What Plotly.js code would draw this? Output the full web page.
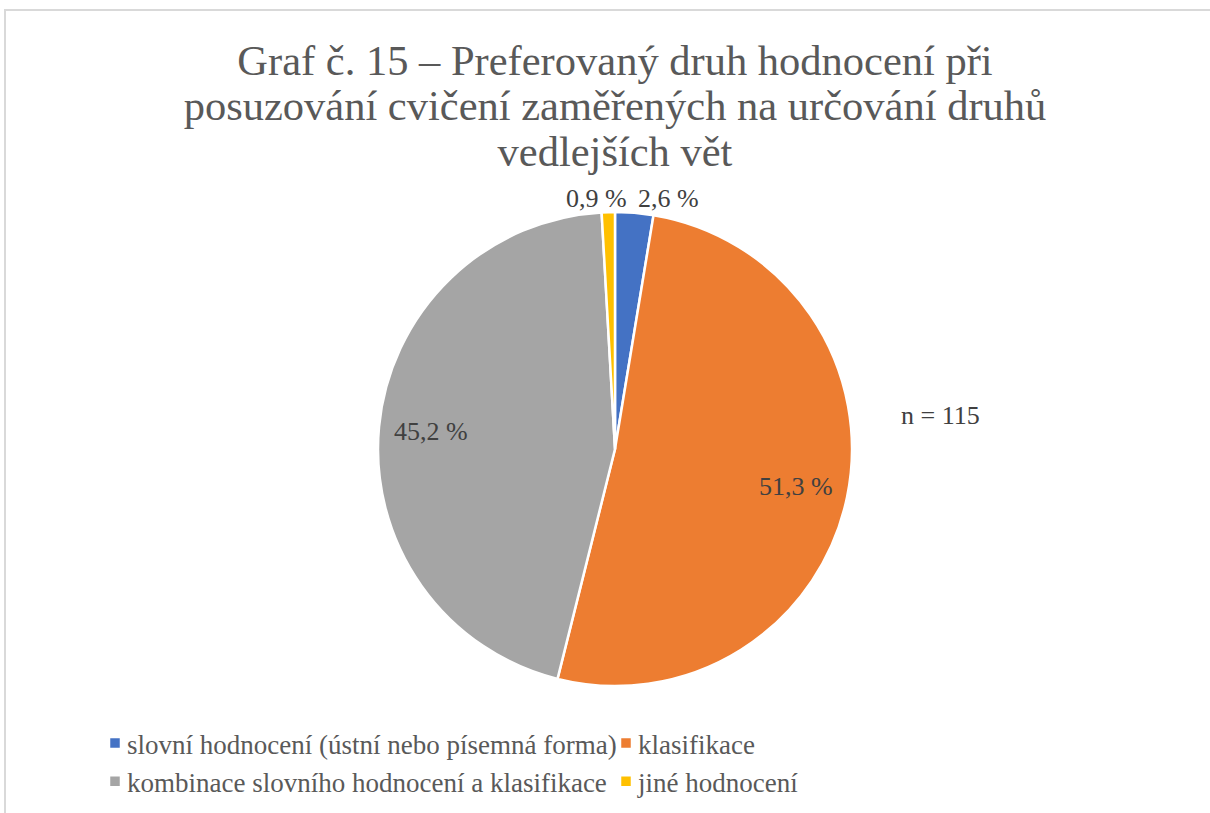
<!DOCTYPE html>
<html>
<head>
<meta charset="utf-8">
<script src="https://cdn.plot.ly/plotly-3.0.1.min.js"></script>
<style>
  html, body { margin: 0; padding: 0; background: #fff; }
  #frame { position: absolute; left: 4px; top: 9px; width: 1206px; height: 804px;
           border-top: 2px solid #d9d9d9; border-left: 2px solid #d9d9d9; box-sizing: border-box; }
  #chart { position: absolute; left: 0; top: 0; width: 1210px; height: 813px; }
</style>
</head>
<body>
<div id="frame"></div>
<div id="chart"></div>
<script>
const categories = [
  "slovní hodnocení (ústní nebo písemná forma)",
  "klasifikace",
  "kombinace slovního hodnocení a klasifikace",
  "jiné hodnocení"
];
const percentValues = [2.6, 51.3, 45.2, 0.9];
const sliceColors = ["#4472C4", "#ED7D31", "#A5A5A5", "#FFC000"];
const labelPlacement = ["outside", "inside", "inside", "outside"];
const chartTitle = "Graf č. 15 – Preferovaný druh hodnocení při<br>posuzování cvičení zaměřených na určování druhů<br>vedlejších vět";
const sampleNote = "n = 115";

const SERIF = "Liberation Serif";
const W = 1210, H = 813;
const cx = 615, cy = 449, r = 237;

const trace = {
  type: "pie",
  labels: categories,
  values: percentValues,
  sort: false,
  direction: "clockwise",
  rotation: 0,
  marker: { colors: sliceColors, line: { color: "#ffffff", width: 2.5 } },
  textinfo: "none",
  hoverinfo: "label+value",
  domain: {
    x: [(cx - r) / W, (cx + r) / W],
    y: [1 - (cy + r) / H, 1 - (cy - r) / H]
  },
  automargin: false
};

// data labels placed from the slice angles (computed from the values)
const total = percentValues.reduce((a, b) => a + b, 0);
let cum = 0;
const labelAnnotations = percentValues.map((v, i) => {
  const mid = (cum + v / 2) / total * 2 * Math.PI;
  cum += v;
  const s = Math.sin(mid), c = Math.cos(mid);
  let px, py;
  if (labelPlacement[i] === "inside") {
    px = cx + 0.78 * r * s;
    py = cy - 0.78 * r * c;
  } else {
    px = cx + 2.75 * r * s;
    py = cy - r * c - 14;
  }
  return {
    text: v.toFixed(1).replace(".", ",") + " %",
    x: px / W, y: 1 - py / H, xref: "paper", yref: "paper",
    xanchor: "center", yanchor: "middle", showarrow: false,
    font: { family: SERIF, size: 26, color: "#404040" }
  };
});

const layout = {
  width: W, height: H,
  margin: { l: 0, r: 0, t: 0, b: 0 },
  paper_bgcolor: "rgba(0,0,0,0)",
  plot_bgcolor: "rgba(0,0,0,0)",
  font: { family: SERIF, color: "#595959" },
  title: {
    text: chartTitle,
    x: 615 / W, xanchor: "center",
    y: 1 - 75 / H, yanchor: "top",
    xref: "paper", yref: "container",
    font: { family: SERIF, size: 42.5, color: "#595959" }
  },
  showlegend: true,
  legend: {
    orientation: "h",
    x: 87 / W, xanchor: "left",
    y: 1 - 719 / H, yanchor: "top",
    font: { family: SERIF, size: 27, color: "#595959" },
    traceorder: "normal",
    itemwidth: 30,
    entrywidth: 466,
    entrywidthmode: "pixels"
  },
  annotations: labelAnnotations.concat([{
    text: sampleNote,
    x: 940 / W, y: 1 - 415 / H, xref: "paper", yref: "paper",
    xanchor: "center", yanchor: "middle", showarrow: false,
    font: { family: SERIF, size: 26, color: "#404040" }
  }])
};

Plotly.newPlot("chart", [trace], layout, { displayModeBar: false, staticPlot: true }).then(() => {
  // tighter title line spacing, as in the original
  document.querySelectorAll(".gtitle tspan.line").forEach((t, i) => {
    t.setAttribute("dy", (i * 1.07) + "em");
  });
  // legend markers sit close to their labels, as in the original
  document.querySelectorAll(".legend .legendpoints").forEach(g => {
    g.setAttribute("transform", "translate(8,0)");
  });
});
</script>
</body>
</html>
